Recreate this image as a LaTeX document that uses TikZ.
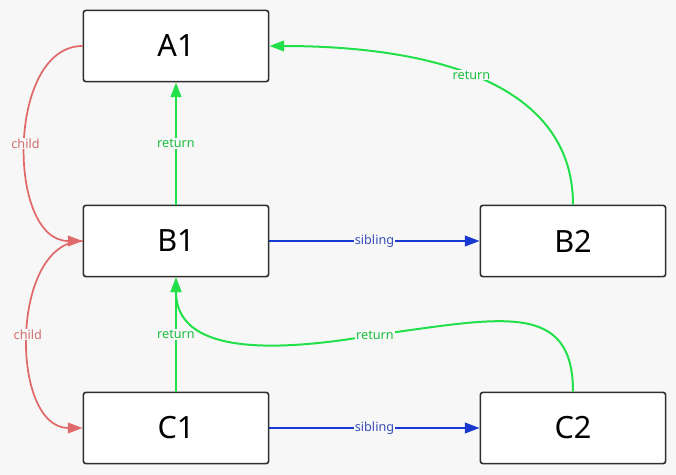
\documentclass[tikz,border=0pt]{standalone}
\usepackage{fontspec}
\setmainfont{Noto Sans}
\usetikzlibrary{arrows.meta}
\definecolor{bgcol}{HTML}{F7F7F7}
\definecolor{retgreen}{HTML}{22E04A}
\definecolor{childred}{HTML}{E06A6A}
\definecolor{sibblue}{HTML}{1838D0}
\definecolor{boxline}{HTML}{2E2E2E}
\begin{document}
\begin{tikzpicture}[x=0.75pt,y=-0.75pt]
\tikzstyle{every node}+=[inner sep=0pt]
\tikzstyle{blk}=[draw=boxline,fill=white,line width=1.2pt,rounded corners=2pt,minimum width=139pt,minimum height=53.5pt,font=\fontsize{23}{26}\selectfont]
\tikzstyle{lbl}=[fill=bgcol,inner sep=0.8pt,font=\fontsize{9.5}{11}\selectfont]
\tikzstyle{tip}=[-{Triangle[length=11pt,width=8pt]}]
\tikzstyle{ret}=[tip,retgreen,line width=1.5pt]
\tikzstyle{chd}=[tip,childred,line width=1.3pt]
\tikzstyle{sib}=[tip,sibblue,line width=1.3pt]
\fill [bgcol] (0,0) rectangle (676,475);
\node [blk] (A1) at (176,46) {A1};
\node [blk] (B1) at (176,241) {B1};
\node [blk] (B2) at (573,241) {B2};
\node [blk] (C1) at (176,428) {C1};
\node [blk] (C2) at (573,428) {C2};
\draw [chd] (A1.west) to[out=180,in=180] node[lbl,text=childred!85!gray] {child} (B1.west);
\draw [chd] (B1.west) to[out=180,in=180] node[lbl,text=childred!85!gray] {child} (C1.west);
\draw [ret] (B1) -- node[lbl,text=retgreen!85!black] {return} (A1);
\draw [ret] (C1) -- node[lbl,text=retgreen!85!black] {return} (B1);
\draw [ret] (B2.north) to[out=90,in=0] node[lbl,text=retgreen!85!black,pos=0.5] {return} (A1.east);
\coordinate (R2) at (375,335);
\draw [ret] (C2.north) .. controls (573,300) and (500,318) .. (R2) .. controls (260,355) and (176,350) .. (B1.south);
\node [lbl,text=retgreen!85!black] at (R2) {return};
\draw [sib] (B1) -- node[lbl,text=sibblue!70!gray] {sibling} (B2);
\draw [sib] (C1) -- node[lbl,text=sibblue!70!gray] {sibling} (C2);
\end{tikzpicture}
\end{document}
